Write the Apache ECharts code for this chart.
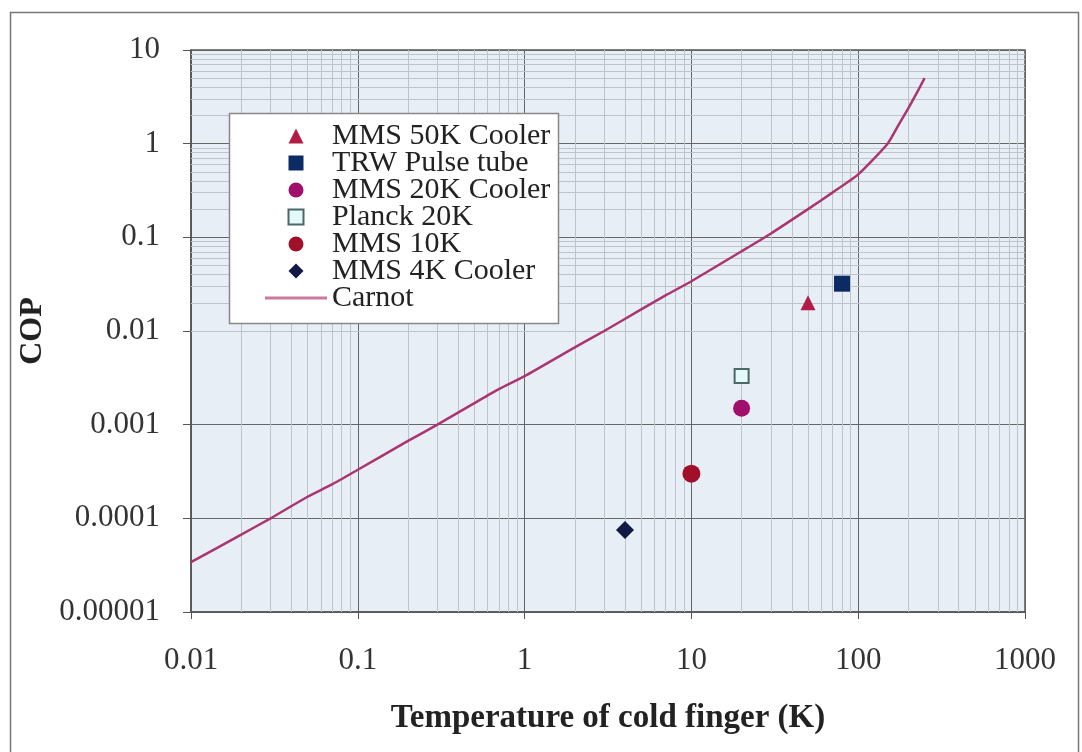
<!DOCTYPE html>
<html>
<head>
<meta charset="utf-8">
<script src="https://cdn.jsdelivr.net/npm/echarts@6/dist/echarts.min.js"></script>
<style>
  html, body { margin: 0; padding: 0; background: #fff; }
  #chart { width: 1082px; height: 752px; }
</style>
</head>
<body>
<div id="chart"></div>
<script>
// tick labels
var xTicks = ['0.01', '0.1', '1', '10', '100', '1000']
var yTicks = ['0.00001', '0.0001', '0.001', '0.01', '0.1', '1', '10']

// cooler measurements [T, COP]
var mms50k = [[50, 0.02]]
var trwPulse = [[80, 0.032]]
var mms20k = [[20, 0.0015]]
var planck20k = [[20, 0.0033]]
var mms10k = [[10, 0.0003]]
var mms4k = [[4, 0.000075]]

// carnot curve
var carnotT = [0.01, 0.02, 0.03, 0.05, 0.07, 0.1, 0.2, 0.3, 0.5, 0.7, 1, 2, 3, 5, 7, 10, 20, 30, 50, 70, 100, 150, 175, 200, 225, 250]
var carnotCOP = [0.000034, 0.000067, 0.0001, 0.00017, 0.00023, 0.00033, 0.00067, 0.001, 0.0017, 0.0024, 0.0033, 0.0067, 0.01, 0.017, 0.024, 0.034, 0.071, 0.11, 0.2, 0.3, 0.47, 1.0, 1.6, 2.4, 3.5, 5.0]

var carnot = carnotT.map(function (t, i) { return [t, carnotCOP[i]] })

// minor grid (2..9 per decade)
var minorLines = []
var k, m
for (k = -2; k < 3; k++) {
  for (m = 2; m < 10; m++) minorLines.push({ xAxis: m * Math.pow(10, k) })
}
for (k = -5; k < 1; k++) {
  for (m = 2; m < 10; m++) minorLines.push({ yAxis: m * Math.pow(10, k) })
}

var serif = 'Liberation Serif'
var carnotColor = '#aa3570'

var chart = echarts.init(document.getElementById('chart'))
var option = {
  animation: false,
  backgroundColor: '#fff',
  textStyle: { fontFamily: serif },
  graphic: [
    {
      type: 'rect',
      z: 0,
      shape: { x: 10.5, y: 12.5, width: 1068, height: 780 },
      style: { fill: 'none', stroke: '#777', lineWidth: 1.5 }
    },
    {
      type: 'rect',
      z: 3,
      shape: { x: 229.5, y: 113.5, width: 329, height: 210 },
      style: { fill: '#fff', stroke: '#888', lineWidth: 1.5 }
    }
  ],
  grid: {
    left: 191,
    right: 57,
    top: 50,
    bottom: 140,
    show: true,
    backgroundColor: '#e8eef6',
    borderColor: '#555',
    borderWidth: 1.5
  },
  legend: {
    z: 4,
    orient: 'vertical',
    left: 265,
    top: 121,
    padding: 0,
    itemWidth: 62,
    itemHeight: 15,
    itemGap: -3,
    selectedMode: false,
    textStyle: { fontFamily: serif, fontSize: 30, color: '#222' },
    data: [
      { name: 'MMS 50K Cooler', icon: 'path://M0,-1 L1,1 L-1,1 Z' },
      { name: 'TRW Pulse tube', icon: 'path://M0,0 L1,0 L1,1 L0,1 Z' },
      { name: 'MMS 20K Cooler', icon: 'circle' },
      { name: 'Planck 20K', icon: 'path://M0,0 L1,0 L1,1 L0,1 Z' },
      { name: 'MMS 10K', icon: 'circle' },
      { name: 'MMS 4K Cooler', icon: 'path://M0,-1 L1,0 L0,1 L-1,0 Z' },
      { name: 'Carnot', icon: 'path://M0,0 L62,0 L62,3 L0,3 Z', itemStyle: { color: '#c97ba0' } }
    ]
  },
  xAxis: {
    type: 'log',
    logBase: 10,
    min: 0.01,
    max: 1000,
    name: 'Temperature of cold finger (K)',
    nameLocation: 'middle',
    nameGap: 90,
    nameTextStyle: { fontFamily: serif, fontSize: 33, fontWeight: 'bold', color: '#222' },
    axisLine: { lineStyle: { color: '#555', width: 1.5 } },
    axisTick: { show: true, length: 7, lineStyle: { color: '#555' } },
    axisLabel: {
      margin: 33,
      fontFamily: serif,
      fontSize: 31,
      color: '#333',
      formatter: function (v) { return xTicks[Math.round(Math.log10(v)) + 2] }
    },
    splitLine: { show: true, lineStyle: { color: '#666', width: 1 } }
  },
  yAxis: {
    type: 'log',
    logBase: 10,
    min: 0.00001,
    max: 10,
    name: 'COP',
    nameLocation: 'middle',
    nameRotate: 90,
    nameGap: 112,
    nameTextStyle: { fontFamily: serif, fontSize: 32, fontWeight: 'bold', color: '#222' },
    axisLine: { show: true, lineStyle: { color: '#555', width: 1.5 } },
    axisTick: { show: true, length: 8, lineStyle: { color: '#555' } },
    axisLabel: {
      margin: 31,
      fontFamily: serif,
      fontSize: 31,
      color: '#333',
      formatter: function (v) { return yTicks[Math.round(Math.log10(v)) + 5] }
    },
    splitLine: { show: true, lineStyle: { color: '#666', width: 1 } }
  },
  series: [
    {
      name: 'minor grid',
      type: 'scatter',
      data: [],
      silent: true,
      markLine: {
        z: 1,
        silent: true,
        symbol: 'none',
        animation: false,
        label: { show: false },
        lineStyle: { color: '#bcc4cc', width: 1, type: 'solid' },
        emphasis: { disabled: true },
        data: minorLines
      }
    },
    {
      name: 'MMS 50K Cooler',
      type: 'scatter',
      symbol: 'triangle',
      symbolSize: 15,
      itemStyle: { color: '#b21d48', opacity: 1 },
      data: mms50k
    },
    {
      name: 'TRW Pulse tube',
      type: 'scatter',
      symbol: 'rect',
      symbolSize: 16,
      itemStyle: { color: '#0c2a63', opacity: 1 },
      data: trwPulse
    },
    {
      name: 'MMS 20K Cooler',
      type: 'scatter',
      symbol: 'circle',
      symbolSize: 17,
      itemStyle: { color: '#a10f6d', opacity: 1 },
      data: mms20k
    },
    {
      name: 'Planck 20K',
      type: 'scatter',
      symbol: 'rect',
      symbolSize: 14,
      itemStyle: { color: '#e4fafa', borderColor: '#4a6868', borderWidth: 2, opacity: 1 },
      data: planck20k
    },
    {
      name: 'MMS 10K',
      type: 'scatter',
      symbol: 'circle',
      symbolSize: 18,
      itemStyle: { color: '#a0102a', opacity: 1 },
      data: mms10k
    },
    {
      name: 'MMS 4K Cooler',
      type: 'scatter',
      symbol: 'diamond',
      symbolSize: 18,
      itemStyle: { color: '#111945', opacity: 1 },
      data: mms4k
    },
    {
      name: 'Carnot',
      type: 'line',
      symbol: 'none',
      showSymbol: false,
      smooth: 0.2,
      lineStyle: { color: carnotColor, width: 2.5 },
      itemStyle: { color: carnotColor },
      data: carnot
    }
  ]
}
chart.setOption(option)
</script>
</body>
</html>
